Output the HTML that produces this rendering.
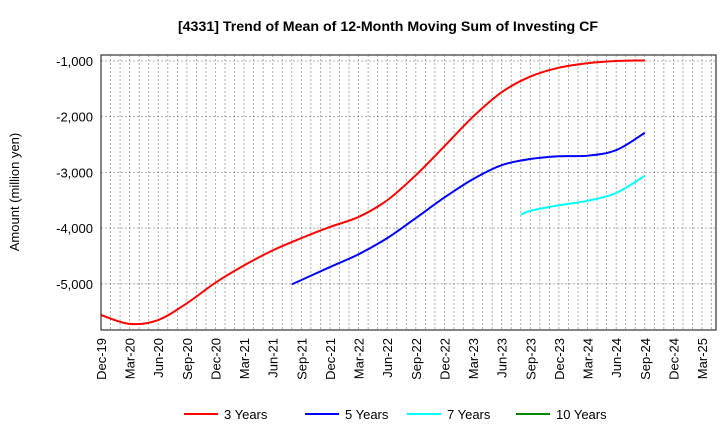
<!DOCTYPE html>
<html><head><meta charset="utf-8"><style>
body{margin:0;background:#fff;font-family:"Liberation Sans",sans-serif;}
</style></head><body>
<svg id="c" width="720" height="440" xmlns="http://www.w3.org/2000/svg">
<text x="388" y="31" text-anchor="middle" font-size="14.2" font-weight="bold">[4331]  Trend of Mean of 12-Month Moving Sum of Investing CF</text>
<text transform="translate(19,192) rotate(-90)" text-anchor="middle" font-size="13">Amount (million yen)</text>
<g id="grid"></g><g id="series"></g><g id="axes"></g><g id="legend"></g>
</svg>
<script>
const xLabels=["Dec-19","Mar-20","Jun-20","Sep-20","Dec-20","Mar-21","Jun-21","Sep-21","Dec-21","Mar-22","Jun-22","Sep-22","Dec-22","Mar-23","Jun-23","Sep-23","Dec-23","Mar-24","Jun-24","Sep-24","Dec-24","Mar-25"];
const yTicks=[-1000,-2000,-3000,-4000,-5000];
const s3m=[0,3,6,9,12,15,18,21,24,27,30,33,36,39,42,45,48,51,54,57];
const s3v=[-5560,-5720,-5650,-5350,-4980,-4670,-4400,-4180,-3980,-3800,-3500,-3050,-2530,-2000,-1560,-1280,-1120,-1040,-1000,-990];
const s5m=[20,24,27,30,33,36,39,42,45,48,51,54,57];
const s5v=[-5010,-4700,-4470,-4180,-3820,-3450,-3120,-2870,-2760,-2710,-2700,-2600,-2290];
const s7m=[44,45,48,51,54,57];
const s7v=[-3760,-3690,-3590,-3510,-3370,-3060];
const s10m=[];const s10v=[];
const L=101,R=716,T=55,B=330;
const x=m=>L+m*9.54;
const y=v=>61+(-1000-v)*0.0557;
const NS="http://www.w3.org/2000/svg";
function mk(t,a,p){const e=document.createElementNS(NS,t);for(const k in a)e.setAttribute(k,a[k]);p.appendChild(e);return e;}
const g=document.getElementById('grid');
for(let m=0;x(m)<R;m++){const l=mk('line',{x1:x(m),x2:x(m),y1:T,y2:B,stroke:'#999','stroke-dasharray':'2,2','stroke-width':0.8},g);

}
yTicks.forEach(v=>{const l=mk('line',{x1:L,x2:R,y1:y(v),y2:y(v),stroke:'#999','stroke-dasharray':'2,2','stroke-width':0.8},g);

});
const a=document.getElementById('axes');
const fr=mk('rect',{x:L,y:T,width:R-L,height:B-T,fill:'none',stroke:'#333','stroke-width':1.2},a);


yTicks.forEach(v=>{const t=mk('text',{x:L-8,y:y(v)+5,'text-anchor':'end','font-size':13},a);t.textContent=v.toLocaleString('en-US');

});
xLabels.forEach((s,i)=>{const t=mk('text',{transform:`translate(${x(i*3)+5},${B+8}) rotate(-90)`,'text-anchor':'end','font-size':13},a);t.textContent=s;

});
function path(ms,vs){if(!ms.length)return '';const p=ms.map((m,i)=>[x(m),y(vs[i])]);let d=`M${p[0][0]},${p[0][1]}`;
for(let i=0;i<p.length-1;i++){const p0=p[i-1]||p[i],p1=p[i],p2=p[i+1],p3=p[i+2]||p2;
d+=` C${p1[0]+(p2[0]-p0[0])/6},${p1[1]+(p2[1]-p0[1])/6} ${p2[0]-(p3[0]-p1[0])/6},${p2[1]-(p3[1]-p1[1])/6} ${p2[0]},${p2[1]}`;}return d;}
const sg=document.getElementById('series');
[[s3m,s3v,'#f00','series-3-years'],[s5m,s5v,'#00f','series-5-years'],[s7m,s7v,'#0ff','series-7-years'],[s10m,s10v,'#080','series-10-years']].forEach(([m,v,c,n])=>{
const p=mk('path',{d:path(m,v),fill:'none',stroke:c,'stroke-width':2},sg);

});
const lg=document.getElementById('legend');
[['3 Years','#f00',184],['5 Years','#00f',305],['7 Years','#0ff',407],['10 Years','#080',516]].forEach(([s,c,lx])=>{
const gg=mk('g',{},lg);


mk('line',{x1:lx,x2:lx+34,y1:414,y2:414,stroke:c,'stroke-width':2},gg);
const t=mk('text',{x:lx+40,y:419,'font-size':13},gg);t.textContent=s;});
</script>
</body></html>
